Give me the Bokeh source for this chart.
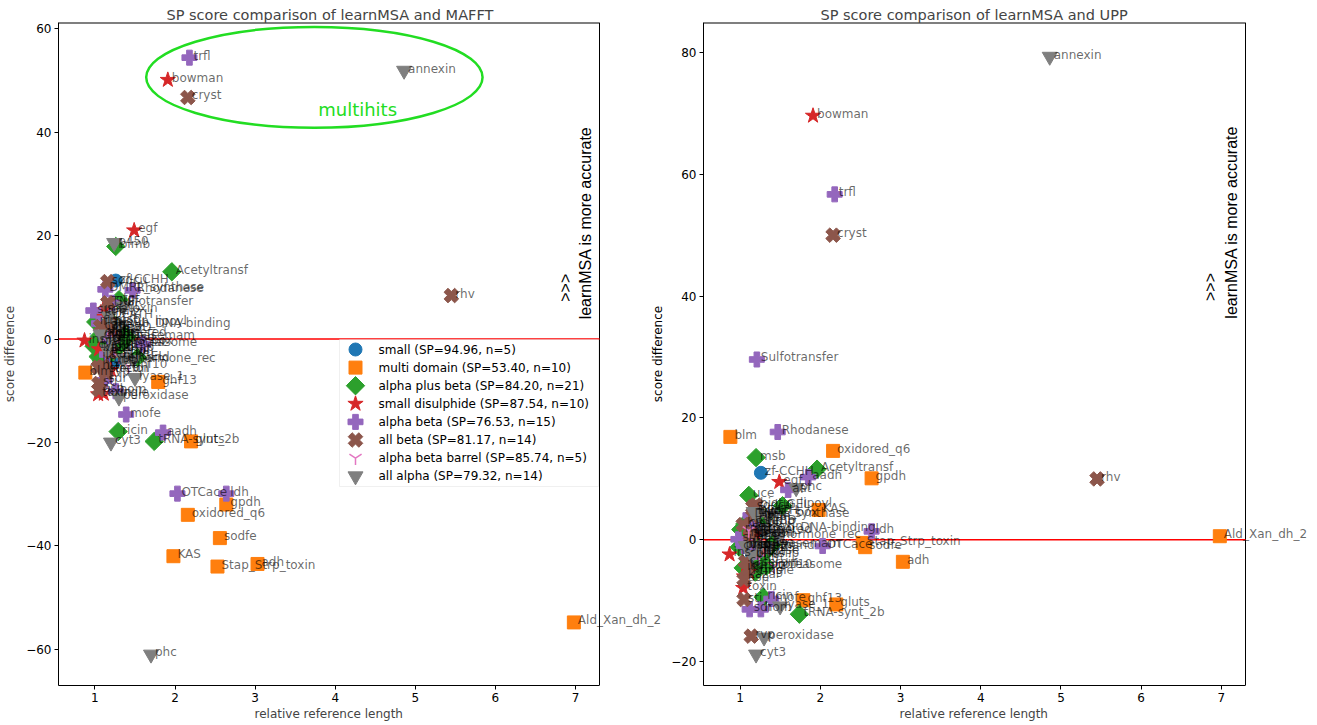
import math
from bokeh.plotting import figure
from bokeh.models import (Label, LabelSet, BoxAnnotation, Range1d, FixedTicker,
                          CustomJSTickFormatter, ColumnDataSource, Title)
from bokeh.layouts import row
from bokeh.embed import file_html
from bokeh.resources import INLINE
from bokeh.core.properties import value

FONT = "DejaVu Sans"

# ---------------- data ----------------
categories = ["small", "multi domain", "alpha plus beta", "small disulphide",
              "alpha beta", "all beta", "alpha beta barrel", "all alpha"]
cat_sp = [94.96, 53.40, 84.20, 87.54, 76.53, 81.17, 85.74, 79.32]
cat_n = [5, 10, 21, 10, 15, 14, 5, 14]

small_names = ["zf-CCHH", "rub", "hip", "ChtBD", "LIM"]
small_len = [1.26, 1.24, 1.10, 1.18, 1.15]
small_mafft = [11.3, -4.5, 0.5, 2.0, -2.0]
small_upp = [11.0, 1.5, -1.0, 3.0, -2.5]

multi_names = ["blm", "ghf13", "gluts", "oxidored_q6", "gpdh", "sodfe", "KAS",
               "Stap_Strp_toxin", "adh", "Ald_Xan_dh_2"]
multi_len = [0.88, 1.79, 2.20, 2.16, 2.64, 2.56, 1.98, 2.53, 3.03, 6.98]
multi_mafft = [-6.5, -8.3, -19.8, -34.0, -32.0, -38.5, -42.0, -44.0, -43.5, -54.8]
multi_upp = [16.9, -9.9, -10.6, 14.6, 10.1, -1.2, 4.9, -0.5, -3.6, 0.6]

apb_names = ["blmb", "Acetyltransf", "msb", "uce", "ricin", "tRNA-synt_2b", "GEL",
             "proteasome", "rrm", "cys", "il8", "hpr", "profilin", "ace", "serpin",
             "mmp", "rnasemam", "tms", "cytb5", "tgt", "icd"]
apb_len = [1.26, 1.96, 1.20, 1.11, 1.29, 1.74, 1.53, 1.33, 1.01, 0.99, 1.04, 1.30,
           1.02, 1.15, 1.22, 1.08, 1.40, 1.19, 1.06, 1.30, 1.12]
apb_mafft = [17.9, 13.0, 3.4, 1.8, -17.9, -19.8, -3.6, -1.0, 3.3, -1.4, -3.4, 1.8,
             -0.5, 2.5, -2.6, -4.2, 0.4, -1.8, 0.6, 7.6, -0.2]
apb_upp = [3.0, 11.6, 13.5, 7.3, -9.4, -12.2, 5.6, -4.3, 1.7, -1.2, -4.6, 3.6,
           -1.0, 0.3, -3.9, 1.0, -0.8, -5.3, 2.6, -2.2, 0.8]

sd_names = ["bowman", "egf", "toxin", "ins", "kunitz", "kringle", "seatoxin",
            "tgfb", "kazal", "trefoil"]
sd_len = [1.91, 1.49, 1.04, 0.87, 1.07, 1.11, 1.10, 1.15, 1.05, 1.20]
sd_mafft = [50.1, 21.0, -10.7, -0.3, 5.1, -10.6, 5.6, 1.0, -2.0, -6.0]
sd_upp = [69.6, 9.5, -7.9, -2.4, -4.4, -5.3, 2.0, 0.5, -6.0, 1.0]

ab_names = ["trfl", "Rhodanese", "Sulfotransfer", "aadh", "mofe", "OTCace", "ldh",
            "DMRL_synthase", "subt", "aat", "hom", "sdr", "flav", "Ras", "ptpase"]
ab_len = [2.18, 1.47, 1.21, 1.85, 1.39, 2.03, 2.64, 1.13, 0.98, 1.60, 1.26, 1.12,
          1.05, 1.15, 1.18]
ab_mafft = [54.4, 9.4, 7.0, -18.1, -14.6, -29.9, -29.9, 9.6, 5.5, -1.0, -10.1,
            -8.0, 3.0, -3.0, 0.0]
ab_upp = [56.7, 17.7, 29.6, 10.3, -9.7, -1.0, 1.4, 4.0, 0.1, 8.2, -11.4, -11.4,
          -1.0, 2.5, -2.0]

beta_names = ["cryst", "rhv", "sti", "biotin_lipoyl", "sodcu", "TNF", "cah", "ltn",
              "hla", "slectin", "rvp", "asp", "cyclo", "PDZ"]
beta_len = [2.16, 5.45, 1.05, 1.20, 1.16, 1.16, 1.07, 1.10, 1.04, 1.13, 1.14, 1.05,
            1.20, 1.25]
beta_mafft = [46.7, 8.4, -8.6, 3.0, 11.1, 7.0, 2.4, -5.3, -5.5, -6.0, -6.5, -9.8,
              -2.5, 1.5]
beta_upp = [50.0, 10.0, -9.8, 5.7, 5.4, 3.9, -3.6, -4.8, 2.5, 0.8, -15.8, -6.5,
            4.5, -1.5]

barrel_names = ["ghf10", "tim", "aldosered", "ghf5", "ghf1"]
barrel_len = [1.42, 1.24, 1.11, 1.30, 1.20]
barrel_mafft = [-5.3, -1.1, 1.0, -3.5, 0.5]
barrel_upp = [-4.3, -3.0, 1.5, -1.5, -0.5]

alpha_names = ["annexin", "phc", "p450", "cyt3", "peroxidase", "lyase_1",
               "hormone_rec", "myb_DNA-binding", "HMG_box", "hr", "DEATH", "glob",
               "efhand", "phoslip"]
alpha_len = [4.86, 1.70, 1.24, 1.20, 1.30, 1.50, 1.48, 1.30, 1.22, 1.35, 1.17, 1.07,
             1.36, 1.15]
alpha_mafft = [51.9, -61.0, 18.6, -20.0, -11.3, -7.5, -4.0, 2.7, -0.5, 6.3, 4.4,
               0.9, -3.9, -2.0]
alpha_upp = [79.3, 8.5, -1.0, -18.8, -16.0, -10.9, 0.6, 1.8, 4.2, 3.9, 4.6, -1.0,
             -1.2, -2.5]

groups = [
    (small_names, small_len, small_mafft, small_upp),
    (multi_names, multi_len, multi_mafft, multi_upp),
    (apb_names, apb_len, apb_mafft, apb_upp),
    (sd_names, sd_len, sd_mafft, sd_upp),
    (ab_names, ab_len, ab_mafft, ab_upp),
    (beta_names, beta_len, beta_mafft, beta_upp),
    (barrel_names, barrel_len, barrel_mafft, barrel_upp),
    (alpha_names, alpha_len, alpha_mafft, alpha_upp),
]

# ---------------- styles / layout ----------------
colors = ["#1f77b4", "#ff7f0e", "#2ca02c", "#d62728", "#9467bd", "#8c564b",
          "#e377c2", "#7f7f7f"]
markers = ["circle", "square", "square", "star", "plus", "plus", "y",
           "inverted_triangle"]
angles = [0, 0, math.pi / 4, 0, 0, math.pi / 4, 0, 0]
sizes = [13, 13, 13, 16, 15, 15, 14, 15]

X_VIS = (0.545, 7.30)          # visible axes box
Y_RANGE_L = (-67.0, 61.2)
Y_RANGE_R = (-23.9, 84.9)
FRAME_H = 663
VIS_W_L, EXT_W_L = 541, 610    # box width / drawing-area width (room for overflow text)
VIS_W_R, EXT_W_R = 542, 608
TITLE_OFF_L, TITLE_OFF_R = 108, 117
XLABEL_OFF = 196
TOP_MARGIN = 4
ELLIPSE = dict(x=3.74, y=50.6, w=4.2, h=19.5)

# manual legend geometry in frame pixels (from frame top-left)
LEG_BOX = (281, 540, 317, 464)
LEG_MARK_X = 297
LEG_TEXT_X = 320
LEG_Y0 = 327
LEG_DY = 18.1


def fx(px, fw):
    return X_VIS[0] + px / fw * (X_VIS[1] - X_VIS[0])


def fy(py, yr):
    return yr[1] - py / FRAME_H * (yr[1] - yr[0])


minus_fmt = CustomJSTickFormatter(
    code="return (tick < 0 ? '\\u2212' : '') + Math.abs(tick).toString();")


def make_fig(title, which, yrange, yticks, bl, vis_w, ext_w, ylabel, t_off):
    x_end = fx(ext_w, vis_w)
    p = figure(frame_width=ext_w, frame_height=FRAME_H,
               x_range=Range1d(X_VIS[0], x_end), y_range=Range1d(*yrange),
               output_backend="svg", toolbar_location=None,
               min_border_left=bl, min_border_right=0, min_border_top=0,
               min_border_bottom=0, margin=(TOP_MARGIN, 0, 0, 0))
    p.title = Title(text=title, align="left", offset=t_off, standoff=0,
                    text_font=FONT, text_font_size="14.5px",
                    text_font_style="normal")
    p.add_layout(Title(text="relative reference length", align="left",
                       offset=XLABEL_OFF, standoff=1, text_font=FONT,
                       text_font_size="12px", text_font_style="normal"),
                 "below")
    p.grid.visible = False
    p.outline_line_color = None
    for ax in (p.xaxis[0], p.yaxis[0]):
        ax.axis_line_color = "black"
        ax.major_tick_line_color = "black"
        ax.major_tick_out = 4
        ax.major_tick_in = 0
        ax.minor_tick_line_color = None
        ax.major_label_text_font = FONT
        ax.major_label_text_font_size = "12px"
        ax.major_label_text_color = "black"
        ax.axis_label_text_font = FONT
        ax.axis_label_text_font_size = "12px"
        ax.axis_label_text_font_style = "normal"
        ax.major_label_standoff = 3
    if ylabel:
        p.yaxis.axis_label = "score difference"
        p.yaxis.axis_label_standoff = 6
    p.xaxis.bounds = X_VIS
    p.xaxis.ticker = FixedTicker(ticks=[1, 2, 3, 4, 5, 6, 7])
    p.yaxis.ticker = FixedTicker(ticks=yticks)
    p.yaxis.formatter = minus_fmt

    # top and right edges of the axes box
    p.segment(x0=[X_VIS[0]], y0=[yrange[1]], x1=[X_VIS[1]], y1=[yrange[1]],
              line_color="black", line_width=2)
    p.segment(x0=[X_VIS[1]], y0=[yrange[0]], x1=[X_VIS[1]], y1=[yrange[1]],
              line_color="black", line_width=1)
    # zero line
    p.segment(x0=[X_VIS[0]], y0=[0], x1=[X_VIS[1]], y1=[0],
              line_color="red", line_width=1.5)

    all_x, all_y, all_t = [], [], []
    for i, (names, xs, ym, yu) in enumerate(groups):
        ys = ym if which == "mafft" else yu
        src = ColumnDataSource(dict(x=xs, y=ys))
        if markers[i] == "y":
            p.scatter("x", "y", source=src, marker="y", size=sizes[i],
                      line_color=colors[i], line_width=1.5)
        else:
            p.scatter("x", "y", source=src, marker=markers[i], size=sizes[i],
                      angle=angles[i], fill_color=colors[i],
                      line_color=colors[i], line_width=1)
        all_x += list(xs)
        all_y += list(ys)
        all_t += list(names)

    lsrc = ColumnDataSource(dict(x=all_x, y=all_y, name=all_t))
    p.add_layout(LabelSet(x="x", y="y", text="name", source=lsrc, x_offset=4,
                          y_offset=-2, text_font=value(FONT),
                          text_font_size=value("12px"), text_color="black",
                          text_alpha=0.6, text_align="left",
                          text_baseline="alphabetic"))
    return p


p1 = make_fig("SP score comparison of learnMSA and MAFFT", "mafft",
              Y_RANGE_L, [-60, -40, -20, 0, 20, 40, 60], 50, VIS_W_L, EXT_W_L,
              True, TITLE_OFF_L)
p2 = make_fig("SP score comparison of learnMSA and UPP", "upp",
              Y_RANGE_R, [-20, 0, 20, 40, 60, 80], 33, VIS_W_R, EXT_W_R, False,
              TITLE_OFF_R)

# y-axis title of the right panel (lies in the gap between the panels)
p1.add_layout(Label(x=fx(599, VIS_W_L), y=fy(FRAME_H / 2, Y_RANGE_L),
                    text="score difference", angle=math.pi / 2,
                    text_font=FONT, text_font_size="12px", text_align="center",
                    text_baseline="middle", text_color="black"))

# ellipse + multihits on the MAFFT plot
p1.ellipse(x=[ELLIPSE["x"]], y=[ELLIPSE["y"]], width=ELLIPSE["w"],
           height=ELLIPSE["h"], fill_color=None, line_color="#22dd22",
           line_width=2.5)
p1.add_layout(Label(x=4.28, y=44.3, text="multihits", text_color="#22dd22",
                    text_font=FONT, text_font_size="18px", text_align="center",
                    text_baseline="middle"))

for p, y_arrow, y_text in ((p1, 7.2, 3.8), (p2, 39.2, 36.3)):
    p.add_layout(Label(x=6.87, y=y_arrow, text=">>>", angle=math.pi / 2,
                       text_font="Liberation Sans", text_font_size="16px",
                       text_align="left", text_baseline="middle",
                       text_color="black"))
    p.add_layout(Label(x=7.12, y=y_text, text="learnMSA is more accurate",
                       angle=math.pi / 2, text_font="Liberation Sans",
                       text_font_size="16px", text_align="left",
                       text_baseline="middle", text_color="black"))

# manual legend on the MAFFT plot
l, r, t, b = LEG_BOX
p1.add_layout(BoxAnnotation(left=fx(l, VIS_W_L), right=fx(r, VIS_W_L),
                            top=fy(t, Y_RANGE_L), bottom=fy(b, Y_RANGE_L),
                            fill_color="white", fill_alpha=0.85,
                            line_color="#cccccc", line_width=1,
                            level="annotation"))
for i, cat in enumerate(categories):
    ly = fy(LEG_Y0 + i * LEG_DY, Y_RANGE_L)
    lsrc = ColumnDataSource(dict(x=[fx(LEG_MARK_X, VIS_W_L)], y=[ly]))
    if markers[i] == "y":
        rr = p1.scatter("x", "y", source=lsrc, marker="y", size=sizes[i],
                        line_color=colors[i], line_width=1.5)
    else:
        rr = p1.scatter("x", "y", source=lsrc, marker=markers[i], size=sizes[i],
                        angle=angles[i], fill_color=colors[i],
                        line_color=colors[i], line_width=1)
    rr.level = "overlay"
    p1.add_layout(Label(x=fx(LEG_TEXT_X, VIS_W_L), y=ly,
                        text=f"{cat} (SP={cat_sp[i]:.2f}, n={cat_n[i]})",
                        text_font=FONT, text_font_size="12px",
                        text_align="left", text_baseline="middle",
                        text_color="black", level="overlay"))

layout = row(p1, p2)
open("out.html", "w").write(file_html(layout, INLINE))
